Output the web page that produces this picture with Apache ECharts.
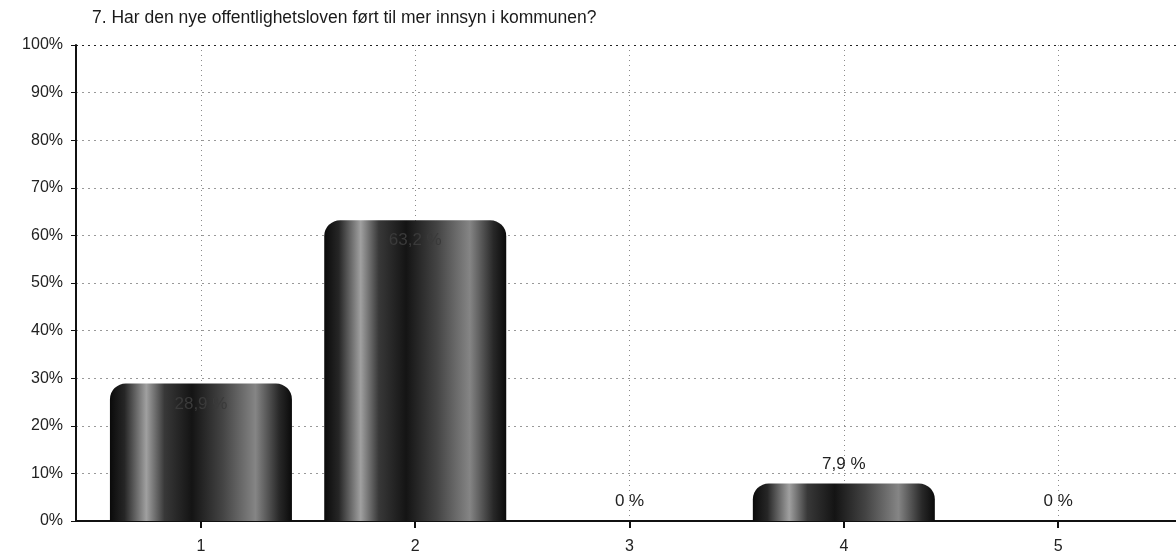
<!DOCTYPE html>
<html>
<head>
<meta charset="utf-8">
<script src="https://cdn.jsdelivr.net/npm/echarts@6/dist/echarts.min.js"></script>
<style>
  html, body { margin: 0; padding: 0; background: #fff; }
  #box { width: 1176px; height: 558px; }
</style>
</head>
<body>
<div id="box"></div>
<script>
// answers 1..5, share of respondents in %
const categories = ['1', '2', '3', '4', '5'];
const shares = [28.9, 63.2, 0, 7.9, 0];
const yTicks = [0, 10, 20, 30, 40, 50, 60, 70, 80, 90, 100];

const barFill = new echarts.graphic.LinearGradient(0, 0, 1, 0, [
  { offset: 0, color: '#0a0a0a' },
  { offset: 0.08, color: '#262626' },
  { offset: 0.2, color: '#a0a0a0' },
  { offset: 0.3, color: '#383838' },
  { offset: 0.45, color: '#141414' },
  { offset: 0.62, color: '#444' },
  { offset: 0.8, color: '#858585' },
  { offset: 0.93, color: '#282828' },
  { offset: 1, color: '#0a0a0a' }
]);

function fmt (v) {
  return String(v).replace('.', ',') + ' %';
}

const barData = categories.map(function (c, i) {
  const item = { value: [Number(c), shares[i]] };
  if (shares[i] > 15) {
    // big bars carry their label inside, dark on dark
    item.label = { position: 'insideTop', distance: 12, color: '#3a3a3a' };
  }
  return item;
});

const chart = echarts.init(document.getElementById('box'));
chart.setOption({
  backgroundColor: '#fff',
  animation: false,
  textStyle: { fontFamily: 'Liberation Sans, Arial, sans-serif' },
  title: {
    text: '7. Har den nye offentlighetsloven ført til mer innsyn i kommunen?',
    left: 87,
    top: 4,
    textStyle: { fontSize: 17.5, fontWeight: 'normal', color: '#1a1a1a' }
  },
  grid: { left: 76, right: 0, top: 45, bottom: 37, containLabel: false },
  xAxis: {
    type: 'value',
    min: 0.417,
    max: 5.55,
    axisLine: { show: true, lineStyle: { color: '#111', width: 2 } },
    axisTick: { show: true, length: 7, customValues: categories.map(Number), lineStyle: { color: '#111', width: 2 } },
    axisLabel: {
      customValues: categories.map(Number),
      margin: 18,
      fontSize: 16,
      color: '#222',
      formatter: function (v) { return String(v); }
    },
    splitLine: { show: true, lineStyle: { color: '#8a8a8a', type: [1, 4], width: 1 } }
  },
  yAxis: {
    type: 'value',
    min: 0,
    max: 100,
    interval: 10,
    axisLine: { show: true, lineStyle: { color: '#111', width: 2 } },
    axisTick: { show: true, length: 5, lineStyle: { color: '#111' } },
    axisLabel: {
      margin: 13,
      fontSize: 16,
      color: '#222',
      formatter: function (v) { return yTicks.indexOf(v) >= 0 ? v + '%' : ''; }
    },
    splitLine: {
      show: true,
      lineStyle: {
        color: ['#999', '#999', '#999', '#999', '#999', '#999', '#999', '#999', '#999', '#999', '#222'],
        type: [2, 4],
        width: 1
      }
    }
  },
  series: [
    {
      type: 'bar',
      barWidth: 182,
      data: barData,
      itemStyle: { color: barFill, borderRadius: [16, 16, 0, 0] },
      label: {
        show: true,
        position: 'top',
        distance: 11,
        fontSize: 17,
        color: '#222',
        formatter: function (p) { return fmt(p.value[1]); }
      }
    }
  ]
});
</script>
</body>
</html>
